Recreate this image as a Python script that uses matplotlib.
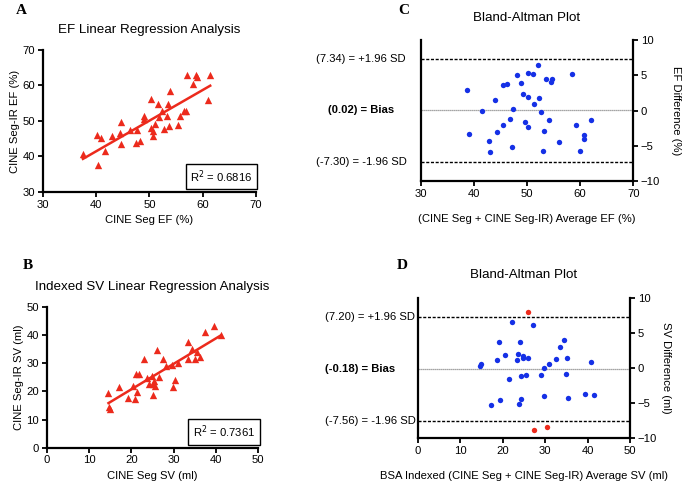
import matplotlib
matplotlib.use("Agg")
import matplotlib.pyplot as plt
from matplotlib.transforms import blended_transform_factory
import numpy as np

plt.rcParams['font.family'] = ['Liberation Sans', 'DejaVu Sans']

# --- panel A: EF regression ---
ef_seg = [37.5, 40.4, 40.2, 40.8, 41.6, 43.0, 44.5, 44.7, 44.7, 46.3, 47.4, 47.6, 48.2,
          49.0, 48.9, 50.2, 50.2, 50.7, 50.7, 51.1, 51.6, 51.8, 52.4, 52.7, 53.2, 53.5,
          53.7, 53.8, 55.4, 55.7, 56.5, 56.9, 57.1, 58.1, 58.7, 59.0, 60.9, 61.4]
ef_ir = [40.8, 37.5, 46.0, 45.1, 41.6, 45.9, 46.5, 49.8, 43.5, 47.4, 43.9, 47.4, 44.4,
         51.4, 50.5, 56.1, 48.1, 47.2, 45.8, 49.1, 54.8, 51.2, 52.8, 47.7, 51.5, 54.8,
         48.6, 58.5, 49.0, 51.5, 52.8, 52.8, 62.9, 60.4, 62.9, 62.5, 55.9, 62.9]
ef_r2 = "0.6816"

# --- panel B: SV regression ---
sv_seg = [14.6, 14.8, 15.0, 17.1, 19.1, 20.5, 20.9, 21.1, 21.4, 21.9, 23.0, 23.6, 24.2,
          24.8, 25.0, 25.2, 25.4, 25.6, 26.1, 26.6, 27.4, 28.2, 29.5, 29.8, 30.2, 31.1,
          33.3, 33.5, 34.4, 35.0, 35.6, 36.2, 37.4, 39.5, 41.2]
sv_ir = [19.5, 14.5, 13.9, 21.6, 17.8, 21.9, 17.1, 26.0, 19.6, 26.0, 31.6, 24.7, 22.7,
         25.3, 22.7, 18.6, 23.6, 21.9, 34.6, 25.1, 31.6, 28.9, 29.3, 21.6, 24.0, 30.2,
         31.6, 37.6, 34.9, 31.6, 34.0, 32.0, 40.9, 43.1, 39.9]
sv_r2 = "0.7361"

# --- panel C: EF Bland-Altman ---
ef_avg = [38.8, 39.1, 41.5, 42.9, 43.1, 43.9, 44.4, 45.4, 46.2, 45.4, 46.8, 47.1, 47.4,
          48.1, 48.8, 49.2, 49.6, 50.1, 50.1, 50.2, 51.1, 51.4, 52.1, 52.3, 52.6, 53.2,
          53.1, 53.6, 54.2, 54.6, 54.7, 56.1, 58.4, 59.2, 60.0, 60.7, 60.8, 62.1]
ef_diff = [2.9, -3.3, -0.1, -4.3, -5.9, 1.5, -3.1, 3.6, 3.7, -2.1, -1.2, -5.2, 0.2,
           5.0, 3.9, 2.4, -1.6, 5.3, 1.9, -2.3, 5.2, 0.9, 6.5, 1.8, -0.2, -2.9,
           -5.8, 4.5, -1.4, 4.0, 4.4, -4.4, 5.2, -2.1, -5.7, -3.5, -4.1, -1.4]
ef_bias, ef_hi, ef_lo = 0.02, 7.34, -7.30

# --- panel D: SV Bland-Altman ---
sv_avg = [22.1, 27.2, 19.1, 24.0, 20.6, 18.7, 23.7, 24.7, 24.9, 23.5, 26.0, 14.9, 14.6,
          21.5, 24.4, 25.4, 29.0, 29.7, 31.0, 32.6, 34.4, 33.6, 35.1, 34.9, 19.4, 17.3,
          24.3, 23.8, 29.7, 35.5, 40.9, 39.3, 41.5]
sv_diff = [6.5, 6.1, 3.7, 3.7, 1.85, 1.1, 2.0, 1.7, 1.4, 1.2, 1.4, 0.5, 0.3,
           -1.6, -1.2, -1.0, -0.95, -0.05, 0.57, 1.3, 4.0, 3.0, 1.4, -0.85, -4.5, -5.3,
           -4.4, -5.1, -4.0, -4.2, 0.9, -3.7, -3.9]
sv_out_avg = [25.9, 27.5, 30.4]
sv_out_diff = [7.9, -8.8, -8.35]
sv_bias, sv_hi, sv_lo = -0.18, 7.20, -7.56

RED = '#ec2a1c'
BLUE = '#1530e6'
FS = 8.1
TFS = 9.6

fig = plt.figure(figsize=(6.85, 4.86), dpi=100)
W, H = 685, 486


def add_ax(x0, y_top, x1, y_bot):
    return fig.add_axes([x0 / W, 1 - y_bot / H, (x1 - x0) / W, (y_bot - y_top) / H])


def style(ax):
    for s in ax.spines.values():
        s.set_linewidth(1.6)
    ax.tick_params(direction='out', length=3.5, width=1.3, labelsize=FS, pad=2)


def regression(ax, x, y, lims, ticks, r2, xl, yl, title):
    x = np.array(x)
    y = np.array(y)
    ax.scatter(x, y, marker='^', s=28, color=RED, linewidths=0, zorder=3)
    m, b = np.polyfit(x, y, 1)
    xs = np.array([x.min(), x.max()])
    ax.plot(xs, m * xs + b, color=RED, lw=1.8, zorder=2)
    ax.set_xlim(lims[0])
    ax.set_ylim(lims[1])
    ax.set_xticks(ticks[0])
    ax.set_yticks(ticks[1])
    ax.spines['top'].set_visible(False)
    ax.spines['right'].set_visible(False)
    style(ax)
    ax.set_xlabel(xl, fontsize=FS, labelpad=4)
    ax.set_ylabel(yl, fontsize=FS, labelpad=2)
    ax.set_title(title, fontsize=TFS, pad=12)
    ax.text(0.985, 0.11, r'R$^2$ = ' + r2, transform=ax.transAxes, ha='right', va='center',
            fontsize=FS, bbox=dict(boxstyle='square,pad=0.4', fc='white', ec='black', lw=1.0))


def bland(ax, x, y, lims, ticks, bias, hi, lo, xl, yl, ypad, label_x, label_ha):
    ax.scatter(x, y, s=15, color=BLUE, linewidths=0, zorder=3)
    ax.axhline(hi, color='black', ls=(0, (2.2, 1.2)), lw=1.0)
    ax.axhline(lo, color='black', ls=(0, (2.2, 1.2)), lw=1.0)
    ax.axhline(bias, color='#888888', ls=(0, (1, 0.6)), lw=0.9)
    ax.set_xlim(lims[0])
    ax.set_ylim(-10, 10)
    ax.set_xticks(ticks)
    ax.set_yticks([-10, -5, 0, 5, 10])
    ax.spines['top'].set_visible(False)
    ax.yaxis.tick_right()
    ax.yaxis.set_label_position('right')
    style(ax)
    ax.tick_params(axis='y', left=False, labelleft=False, right=True, labelright=True)
    ax.set_xlabel(xl, fontsize=FS, labelpad=11)
    ax.set_ylabel(yl, fontsize=FS, rotation=270, labelpad=ypad)
    ax.set_title('Bland-Altman Plot', fontsize=TFS, pad=14)
    lx = (label_x - ax.get_position().x0 * W) / (ax.get_position().width * W)
    tr = blended_transform_factory(ax.transAxes, ax.transData)
    ax.text(lx, hi, '(%.2f) = +1.96 SD' % hi, transform=tr, ha=label_ha, va='center',
            fontsize=FS, clip_on=False)
    ax.text(lx, bias, '(%.2f) = Bias' % bias, transform=tr, ha=label_ha, va='center',
            fontsize=FS, fontweight='bold', clip_on=False)
    ax.text(lx, lo, '(%.2f) = -1.96 SD' % lo, transform=tr, ha=label_ha, va='center',
            fontsize=FS, clip_on=False)


axA = add_ax(43, 50, 256, 192)
regression(axA, ef_seg, ef_ir, [(30, 70), (30, 70)],
           [[30, 40, 50, 60, 70], [30, 40, 50, 60, 70]], ef_r2,
           'CINE Seg EF (%)', 'CINE Seg-IR EF (%)', 'EF Linear Regression Analysis')

axB = add_ax(46.7, 306.7, 258.3, 447.7)
regression(axB, sv_seg, sv_ir, [(0, 50), (0, 50)],
           [[0, 10, 20, 30, 40, 50], [0, 10, 20, 30, 40, 50]], sv_r2,
           'CINE Seg SV (ml)', 'CINE Seg-IR SV (ml)', 'Indexed SV Linear Regression Analysis')

axC = add_ax(420.7, 40, 633.3, 181)
bland(axC, ef_avg, ef_diff, [(30, 70)], [30, 40, 50, 60, 70], ef_bias, ef_hi, ef_lo,
      '(CINE Seg + CINE Seg-IR) Average EF (%)', 'EF Difference (%)', 15, 361, 'center')

axD = add_ax(417.7, 297.7, 630, 438.3)
bland(axD, sv_avg, sv_diff, [(0, 50)], [0, 10, 20, 30, 40, 50], sv_bias, sv_hi, sv_lo,
      'BSA Indexed (CINE Seg + CINE Seg-IR) Average SV (ml)', 'SV Difference (ml)', 10, 325, 'left')
axD.scatter(sv_out_avg, sv_out_diff, s=15, color=RED, linewidths=0, zorder=3, clip_on=False)

for letter, x, y in [('A', 16, 4), ('C', 398, 4), ('B', 23, 259), ('D', 397, 259)]:
    fig.text(x / W, 1 - y / H, letter, ha='left', va='top', fontsize=11,
             fontweight='bold', family='Liberation Serif')

fig.savefig('out.png', dpi=100)
